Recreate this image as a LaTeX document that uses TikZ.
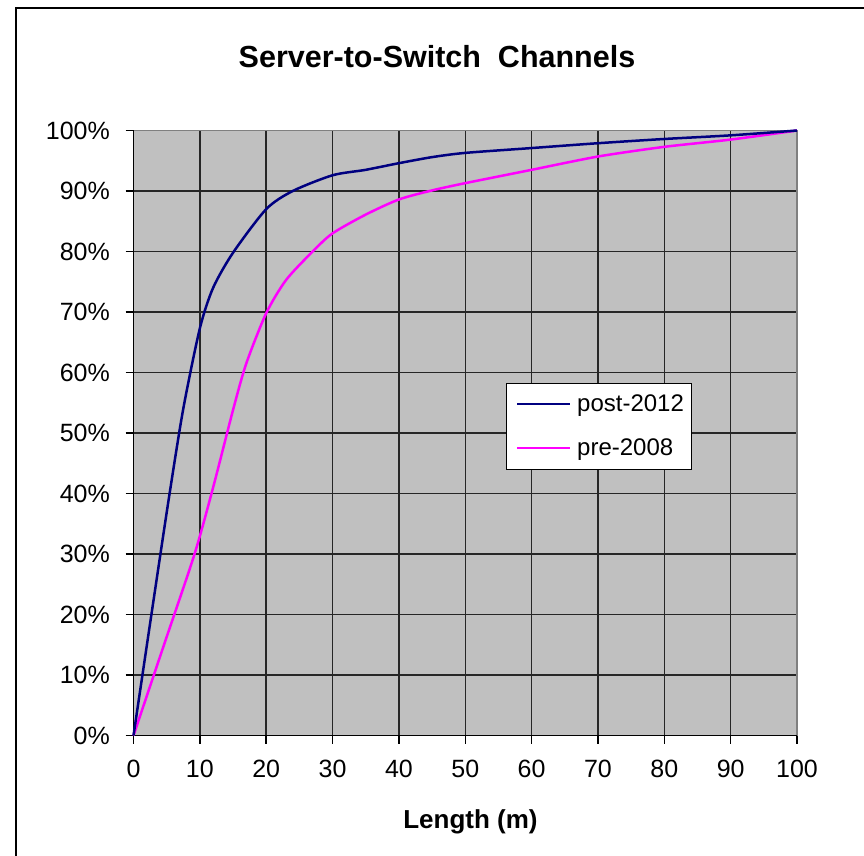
\documentclass[tikz,border=0pt]{standalone}
\usepackage{fontspec}
\setmainfont{Liberation Sans}
\definecolor{plotgrey}{HTML}{C0C0C0}
\definecolor{bordergrey}{HTML}{808080}
\definecolor{navyline}{HTML}{000080}
\definecolor{magline}{HTML}{FF00FF}
\begin{document}
\begin{tikzpicture}[x=1pt,y=-1pt,
  ticklbl/.style={font=\fontsize{25}{25}\selectfont, inner sep=0pt},
  gridline/.style={draw=black!85, line width=1.5pt},
  axisline/.style={draw=black, line width=1.5pt},
  curvenavy/.style={draw=navyline, line width=2.5pt, line join=round},
  curvemag/.style={draw=magline, line width=2.5pt, line join=round}]
\useasboundingbox (0,0) rectangle (864,855);
\fill[white] (0,0) rectangle (864,855);
\draw[line width=2pt] (16,856) -- (16,8) -- (865,8);
% plot area
\fill[plotgrey] (133.5,130.5) rectangle (797,735.5);
\foreach \i in {1,...,9}
  \draw[gridline] ({133.5+66.35*\i},130.5) -- ({133.5+66.35*\i},735.5);
\foreach \j in {1,...,9}
  \draw[gridline] (133.5,{735.5-60.5*\j}) -- (797,{735.5-60.5*\j});
\draw[draw=bordergrey, line width=1.5pt] (133.5,130.5) -- (797,130.5) -- (797,735.5);
\draw[axisline] (133.5,130.5) -- (133.5,735.5) -- (797,735.5);
% ticks and labels
\foreach \j in {0,...,10}{
  \pgfmathtruncatemacro\v{10*\j}
  \draw[axisline] (125.5,{735.5-60.5*\j}) -- (133.5,{735.5-60.5*\j});
  \node[ticklbl, anchor=base east] (yl\j) at (110,{735.5-60.5*\j+8.8}) {\v\%};
}
\foreach \i in {0,...,10}{
  \pgfmathtruncatemacro\v{10*\i}
  \draw[axisline] ({133.5+66.35*\i},735.5) -- ({133.5+66.35*\i},743.5);
  \node[ticklbl, anchor=base] (xl\i) at ({133.5+66.35*\i},777) {\v};
}
% curves
\begin{scope}[shift={(133.5pt,-735.5pt)}, x=6.635pt, y=6.05pt]
\draw[curvemag] plot[smooth, tension=0.45] coordinates {
  (0,0) (4.6,15) (9.2,30) (12,41) (15,53.8) (17,61.5) (20,69.8)
  (23,75.3) (27,80) (30,83) (35,86.1) (40,88.6) (45,90.1) (50,91.3)
  (60,93.5) (70,95.7) (80,97.3) (90,98.5) (100,100)};
\draw[curvenavy] plot[smooth, tension=0.45] coordinates {
  (0,0) (2.7,20) (5.3,39) (7.5,54) (10,67.3) (12,74) (15,79.8) (20,87)
  (24,90) (30,92.6) (35,93.5) (40,94.6) (45,95.6) (50,96.3) (60,97.1)
  (70,97.9) (80,98.6) (90,99.2) (100,100)};
\end{scope}
% legend
\node[draw=black, fill=white, line width=1pt, minimum width=185pt, minimum height=86pt,
      anchor=north west, inner sep=0pt] (legend) at (506,383) {};
\coordinate (la1) at (517,404);
\coordinate (lb1) at (570,404);
\coordinate (la2) at (517,448);
\coordinate (lb2) at (570,448);
\draw[curvenavy] (la1) -- (lb1);
\draw[curvemag] (la2) -- (lb2);
\node[ticklbl, anchor=base west, font=\fontsize{24}{24}\selectfont] (leg1) at (577,411) {post-2012};
\node[ticklbl, anchor=base west, font=\fontsize{24}{24}\selectfont] (leg2) at (577,455) {pre-2008};
% titles
\node[font=\bfseries\fontsize{30.5}{30.5}\selectfont, anchor=base, inner sep=0pt] (title) at (437,67) {Server-to-Switch\ \ Channels};
\node[font=\bfseries\fontsize{26}{26}\selectfont, anchor=base, inner sep=0pt] (xlabel) at (470.5,828) {Length (m)};
\end{tikzpicture}
\end{document}
